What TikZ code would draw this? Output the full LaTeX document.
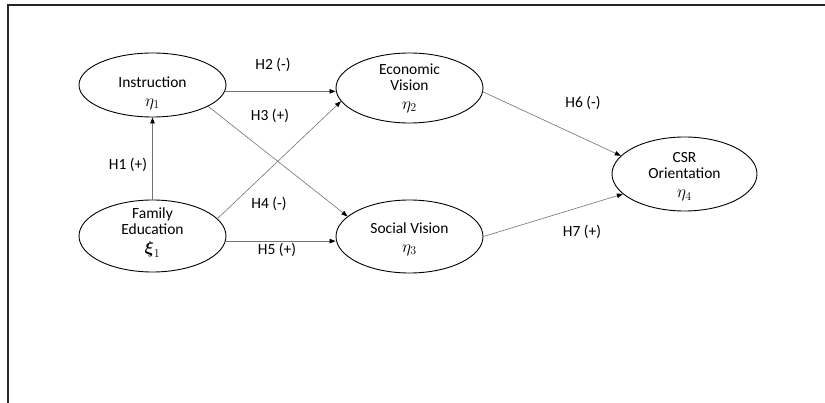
\documentclass[tikz,border=0pt]{standalone}
\usepackage{amsmath}
\usepackage{fontspec}
\setmainfont{Carlito}
\usetikzlibrary{shapes.geometric,arrows.meta}
\newcommand{\mth}[1]{{\fontsize{18}{16}\selectfont$#1$}}
\begin{document}
\begin{tikzpicture}[x=1pt,y=-1pt,
  lv/.style={draw=black, line width=0.9pt, ellipse, inner sep=0pt},
  txt/.style={align=center, font=\fontsize{15.5}{16}\selectfont, inner sep=0pt},
  lab/.style={font=\fontsize{15.5}{16}\selectfont, inner sep=0pt},
  arr/.style={draw=black!55, line width=0.6pt, -{Triangle[length=6pt,width=4.5pt,color=black]}}]
\useasboundingbox (0,0) rectangle (825,403);
\fill[white] (0,0) rectangle (825,403);
\draw[line width=1.6pt, black!85] (8,420) -- (8,5) -- (840,5);
% latent variables
\node[lv, minimum width=147pt, minimum height=64pt] (ins) at (152.5,85) {};
\node[lv, minimum width=147pt, minimum height=72pt] (fam) at (152.5,236) {};
\node[lv, minimum width=147pt, minimum height=70pt] (eco) at (409.5,88) {};
\node[lv, minimum width=147pt, minimum height=73pt] (soc) at (409.5,236.5) {};
\node[lv, minimum width=145pt, minimum height=74pt] (csr) at (684.5,174) {};
% texts
\node[txt] (insT) at (152.5,93) {Instruction\\[3pt]\mth{\eta_1}};
\node[txt] (famT) at (152.5,233) {Family\\Education\\[3pt]\mth{\boldsymbol{\xi}_1}};
\node[txt] (ecoT) at (409.5,88) {Economic\\Vision\\[3pt]\mth{\eta_2}};
\node[txt] (socT) at (409.5,239) {Social Vision\\[3pt]\mth{\eta_3}};
\node[txt] (csrT) at (684.5,177) {CSR\\Orientation\\[3pt]\mth{\eta_4}};
% paths
\draw[arr] (fam.north) -- (ins.south);
\draw[arr] (ins.-5) -- (ins.-5 -| eco.west);
\draw[arr] (ins.-21) -- (soc.162.7);
\draw[arr] (fam.15.6) -- (eco.191);
\draw[arr] (fam.-4) -- (fam.-4 -| soc.west);
\draw[arr] (eco.-3) -- (csr.164.4);
\draw[arr] (soc.0) -- (csr.198);
% labels
\node[lab] (h1) at (128,165) {H1 (+)};
\node[lab] (h2) at (273,65) {H2 (-)};
\node[lab] (h3) at (270,116) {H3 (+)};
\node[lab] (h4) at (269,204) {H4 (-)};
\node[lab] (h5) at (277,250) {H5 (+)};
\node[lab] (h6) at (583,103) {H6 (-)};
\node[lab] (h7) at (582,232) {H7 (+)};
\end{tikzpicture}
\end{document}
